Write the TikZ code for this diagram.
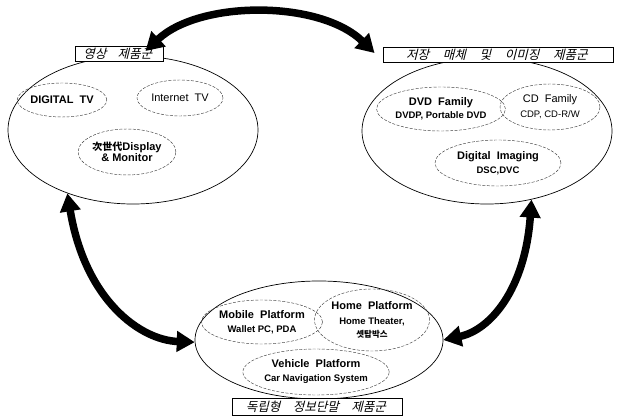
\documentclass[tikz,border=0pt]{standalone}
\usepackage{fontspec}
\setmainfont{Liberation Sans}
\newfontfamily\kr{Noto Sans CJK KR}
\newfontfamily\cjk{Noto Sans CJK KR}
\usetikzlibrary{shapes.geometric,arrows.meta}
\tikzset{
  group/.style={draw, ellipse, line width=0.7pt, inner sep=0pt},
  sub/.style={draw=black!75, ellipse, dash pattern=on 3pt off 1.5pt, line width=0.45pt, inner sep=0pt, align=center, font=\bfseries\fontsize{11}{12}\selectfont},
  title/.style={draw, fill=white, line width=0.9pt, inner sep=0pt},
  titletext/.style={inner sep=0pt, transform shape, font=\kr\fontsize{12.5}{13}\selectfont},
  big/.style={line width=7.5pt, {Triangle[length=18pt,width=20pt]}-{Triangle[length=18pt,width=20pt]}},
}
\newcommand{\subtxt}{\fontsize{9.5}{11}\selectfont}
\begin{document}
\begin{tikzpicture}[x=1pt,y=-1pt]
\useasboundingbox (0,0) rectangle (618,419);
% group ellipses
\node[group, minimum width=250pt, minimum height=148pt] (L) at (133,130) {};
\node[group, minimum width=250pt, minimum height=146pt] (R) at (487,131) {};
\node[group, minimum width=248pt, minimum height=118pt] (B) at (319,340) {};
% titles
\node[title, minimum width=88pt, minimum height=15pt] (LT) at (119,54) {};
\node[title, minimum width=230pt, minimum height=15pt] (RT) at (498,55) {};
\node[title, minimum width=170pt, minimum height=17pt] (BT) at (317,407) {};
\begin{scope}[shift={(LT.center)}, xslant=0.25]
  \node[titletext] (LTt) at (0,0) {영상\hspace{0.9em}제품군};
\end{scope}
\begin{scope}[shift={(RT.center)}, xslant=0.25]
  \node[titletext] (RTt) at (0,0) {저장\hspace{1.1em}매체\hspace{1.1em}및\hspace{1.1em}이미징\hspace{1.1em}제품군};
\end{scope}
\begin{scope}[shift={(BT.center)}, xslant=0.25]
  \node[titletext] (BTt) at (0,0) {독립형\hspace{1em}정보단말\hspace{1em}제품군};
\end{scope}
% left items
\node[sub, minimum width=84pt, minimum height=34pt] (dtv) at (62,100) {DIGITAL\ \ TV};
\node[sub, minimum width=86pt, minimum height=36pt, font=\fontsize{11}{12}\selectfont] (itv) at (180,98) {Internet\ \ TV};
\node[sub, minimum width=90pt, minimum height=46pt] (dm) at (127,152) {{\cjk\fontsize{10}{11}\selectfont 次世代}Display\\[-1pt]\&\ Monitor};
% right items
\node[sub, minimum width=116pt, minimum height=44pt] (dvd) at (441,109) {DVD\ \ Family\\[1pt]{\subtxt DVDP,\ Portable DVD}};
\node[sub, minimum width=100pt, minimum height=46pt, font=\fontsize{11}{12}\selectfont] (cd) at (550,107) {CD\ \ Family\\[3pt]{\subtxt CDP,\ CD-R/W}};
\node[sub, minimum width=126pt, minimum height=46pt] (di) at (498,163) {Digital\ \ Imaging\\[2pt]{\subtxt DSC,DVC}};
% bottom items
\node[sub, minimum width=114pt, minimum height=44pt] (mp) at (262,322) {Mobile\ \ Platform\\[2pt]{\subtxt Wallet\ PC,\ PDA}};
\node[sub, minimum width=114pt, minimum height=62pt] (hp) at (372,320) {Home\ \ Platform\\[3pt]{\subtxt Home\ Theater,}\\[1pt]{\cjk\fontsize{8.5}{10}\selectfont 셋탑박스}};
\node[sub, minimum width=124pt, minimum height=46pt] (vp) at (316,372) {Vehicle\ \ Platform\\[2pt]{\subtxt Car\ Navigation\ System}};
% big arrows
\coordinate (ta) at ([xshift=-18pt,yshift=-5pt]LT.north east);
\coordinate (tb) at ([xshift=-8pt,yshift=-6pt]RT.north west);
\draw[big] (ta) .. controls (200,0) and (320,0) .. (tb);
\draw[big] (L.224) .. controls (85,300) and (140,340) .. (B.181);
\draw[big] (R.-57) .. controls (525,290) and (490,330) .. (B.0);
\end{tikzpicture}
\end{document}
